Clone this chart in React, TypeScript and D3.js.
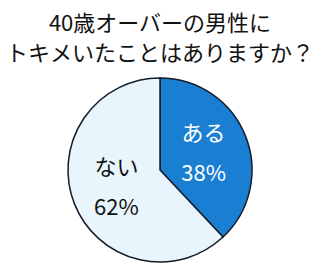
import React from "react";
import * as d3 from "d3";

const titleLines = ["40歳オーバーの男性に", "トキメいたことはありますか？"];
const categories = ["ある", "ない"];
const values = [38, 62];
const percentLabels = ["38%", "62%"];
const colors = ["#1a7fd2", "#e8f5fd"];
const textColors = ["#ffffff", "#111111"];

export default function App() {
  const W = 320, H = 270;
  const cx = 160, cy = 170, r = 92;
  const pie = d3.pie<number>().sort(null).value((d) => d)(values);
  const arc = d3.arc<d3.PieArcDatum<number>>().innerRadius(0).outerRadius(r);
  const labelArc = d3.arc<d3.PieArcDatum<number>>().innerRadius(r * 0.51).outerRadius(r * 0.51);
  const font = "'Noto Sans CJK JP', 'Noto Sans', sans-serif";
  return (
    <svg width={W} height={H} style={{ position: "absolute", left: 0, top: 0, background: "#fff" }}>
      {titleLines.map((t, i) => (
        <text key={i} x={160} y={31 + i * 29.5} textAnchor="middle" fontFamily={font} fontSize={22} fill="#111">
          {t}
        </text>
      ))}
      <g transform={`translate(${cx},${cy})`}>
        {pie.map((p, i) => (
          <path key={i} d={arc(p) as string} fill={colors[i]} stroke="#141c2a" strokeWidth={1.5} />
        ))}
        {pie.map((p, i) => {
          const [lx, ly] = labelArc.centroid(p);
          return (
            <g key={"l" + i} fontFamily={font} fontSize={22} fill={textColors[i]} textAnchor="middle">
              <text x={lx} y={ly - 12}>{categories[i]}</text>
              <text x={lx} y={ly + 28}>{percentLabels[i]}</text>
            </g>
          );
        })}
      </g>
    </svg>
  );
}
